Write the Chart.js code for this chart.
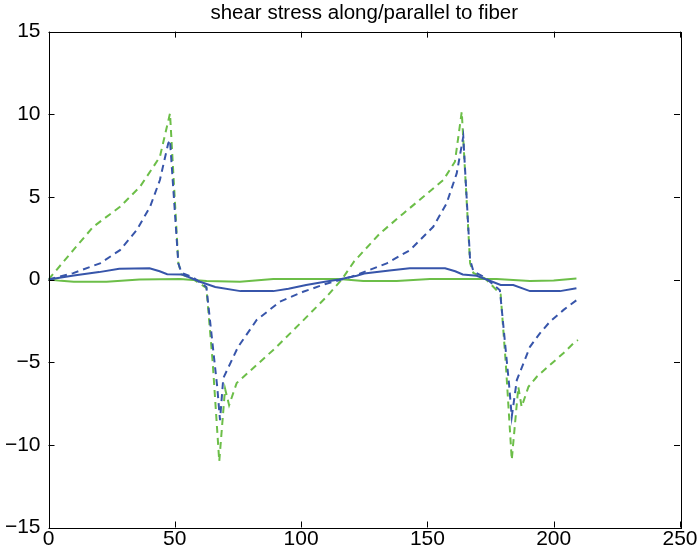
<!DOCTYPE html>
<html>
<head>
<meta charset="utf-8">
<script src="https://cdn.jsdelivr.net/npm/chart.js@4"></script>
<style>
  html, body { margin: 0; padding: 0; background: #fff; }
  #wrap { width: 699px; height: 555px; }
</style>
</head>
<body>
<div id="wrap"><canvas id="c" width="699" height="555"></canvas></div>
<script>
// tick labels
const xTicks = [0, 50, 100, 150, 200, 250];
const yTicks = [-15, -10, -5, 0, 5, 10, 15];

// blue solid
const bsX = [0, 10, 20, 28, 40, 44, 47, 53, 60, 66, 76, 89, 95, 102, 110, 115, 122, 125, 135, 143, 157, 161, 164, 169.5, 176, 179, 184, 190.6, 202.5, 209];
const bsY = [0, 0.25, 0.45, 0.66, 0.68, 0.5, 0.32, 0.3, -0.13, -0.45, -0.7, -0.7, -0.55, -0.33, -0.12, 0, 0.23, 0.37, 0.55, 0.68, 0.68, 0.5, 0.31, 0.23, -0.15, -0.33, -0.33, -0.7, -0.7, -0.53];

// green solid
const gsX = [0, 5, 10, 23, 36, 52, 62.6, 75.8, 89, 102, 115, 124.6, 137.8, 151, 164, 177.4, 190.6, 200, 209];
const gsY = [0, -0.08, -0.13, -0.13, 0, 0.03, -0.09, -0.13, 0.03, 0.03, 0.03, -0.09, -0.09, 0.03, 0.03, 0.03, -0.09, -0.05, 0.07];

// blue dashed
const bdX = [0, 9.8, 20.4, 28.3, 34.9, 40.2, 44.1, 47.4, 48.1, 51.4, 52.7, 57, 62.5, 66.8, 67.9, 69.2, 75.1, 82.4, 91.6, 100.8, 110, 120, 133.9, 143.1, 152.3, 157.6, 161.6, 164.2, 166.9, 168.2, 173, 178.7, 182.3, 183.4, 185.4, 190.6, 194.6, 198.5, 203.8, 209.1];
const bdY = [0, 0.39, 0.98, 1.78, 2.99, 4.4, 6.02, 8.24, 8.44, 0.98, 0.4, 0.15, -0.45, -6.5, -8.5, -5.96, -4.06, -2.45, -1.34, -0.74, -0.25, 0.17, 0.98, 1.78, 3.19, 4.61, 6.42, 8.64, 1.2, 0.5, 0.1, -0.64, -6.3, -8.3, -6.08, -4.07, -3.24, -2.55, -1.85, -1.24];

// green dashed
const gdX = [0, 9.8, 17.7, 28.3, 36.2, 41.5, 44.1, 48.1, 51.4, 52.7, 57, 62.5, 65, 67.6, 69.9, 71.5, 74.5, 89.7, 100, 110.1, 116.1, 121, 131.2, 140.5, 148.4, 156.3, 160.9, 163.6, 166.9, 168.2, 173, 179, 181, 183.4, 186, 187.3, 190, 193.3, 198.5, 203.8, 207.8, 209.6];
const gdY = [0, 1.78, 3.19, 4.4, 5.61, 6.82, 7.43, 10.05, 1.0, 0.3, 0.05, -0.5, -5.0, -11.0, -6.6, -7.6, -6.26, -4.16, -2.6, -1.04, 0, 1.1, 2.79, 4.0, 5.01, 6.02, 7.13, 10.15, 1.0, 0.4, 0.05, -0.9, -5.0, -10.9, -6.49, -7.7, -6.49, -5.88, -5.17, -4.46, -3.86, -3.66];

const BLUE = 'rgb(55, 85, 170)';
const GREEN = 'rgb(108, 190, 72)';

function pts(xs, ys) { return xs.map((x, i) => ({ x: x, y: ys[i] })); }

// box round the plot with inward ticks on all four sides
const frameTicks = {
  id: 'frameTicks',
  afterDraw(chart) {
    const { ctx, chartArea: a, scales } = chart;
    ctx.save();
    ctx.strokeStyle = '#000';
    ctx.lineWidth = 1;
    ctx.beginPath();
    xTicks.forEach(v => {
      const px = Math.round(scales.x.getPixelForValue(v)) + 0.5;
      ctx.moveTo(px, a.bottom); ctx.lineTo(px, a.bottom - 6);
      ctx.moveTo(px, a.top); ctx.lineTo(px, a.top + 6);
    });
    yTicks.forEach(v => {
      const py = Math.round(scales.y.getPixelForValue(v)) + 0.5;
      ctx.moveTo(a.left, py); ctx.lineTo(a.left + 6, py);
      ctx.moveTo(a.right, py); ctx.lineTo(a.right - 6, py);
    });
    ctx.stroke();
    ctx.strokeRect(Math.round(a.left) + 0.5, Math.round(a.top) + 0.5,
      Math.round(a.right - a.left), Math.round(a.bottom - a.top));
    ctx.restore();
  }
};

const tickFont = { family: 'Liberation Sans, Arial, sans-serif', size: 21 };

new Chart(document.getElementById('c'), {
  type: 'scatter',
  data: {
    datasets: [
      { data: pts(bdX, bdY), borderColor: BLUE, borderDash: [7, 5] },
      { data: pts(bsX, bsY), borderColor: BLUE },
      { data: pts(gdX, gdY), borderColor: GREEN, borderDash: [7, 5] },
      { data: pts(gsX, gsY), borderColor: GREEN }
    ].map(d => Object.assign(d, { showLine: true, pointRadius: 0, borderWidth: 2, fill: false, tension: 0 }))
  },
  options: {
    responsive: false,
    animation: false,
    devicePixelRatio: 1,
    layout: { padding: { right: 19, left: 0, top: 0, bottom: 0 } },
    plugins: {
      legend: { display: false },
      tooltip: { enabled: false },
      title: {
        display: true,
        fullSize: false,
        text: 'shear stress along/parallel to fiber',
        color: '#000',
        font: { family: 'Liberation Sans, Arial, sans-serif', size: 20.5, weight: 'normal' },
        padding: { top: 1, bottom: 6 }
      }
    },
    scales: {
      x: {
        type: 'linear', min: 0, max: 250,
        afterBuildTicks: s => { s.ticks = xTicks.map(v => ({ value: v })); },
        afterFit: s => { s.height = 27.5; },
        grid: { display: false, drawTicks: false },
        border: { display: false },
        ticks: { color: '#000', font: tickFont, padding: -1, maxRotation: 0 }
      },
      y: {
        type: 'linear', min: -15, max: 15,
        afterBuildTicks: s => { s.ticks = yTicks.map(v => ({ value: v })); },
        afterFit: s => { s.width = 48.5; },
        grid: { display: false, drawTicks: false },
        border: { display: false },
        ticks: { color: '#000', font: tickFont, padding: 8,
          callback: v => String(v).replace('-', '\u2212') }
      }
    }
  },
  plugins: [frameTicks]
});
</script>
</body>
</html>
